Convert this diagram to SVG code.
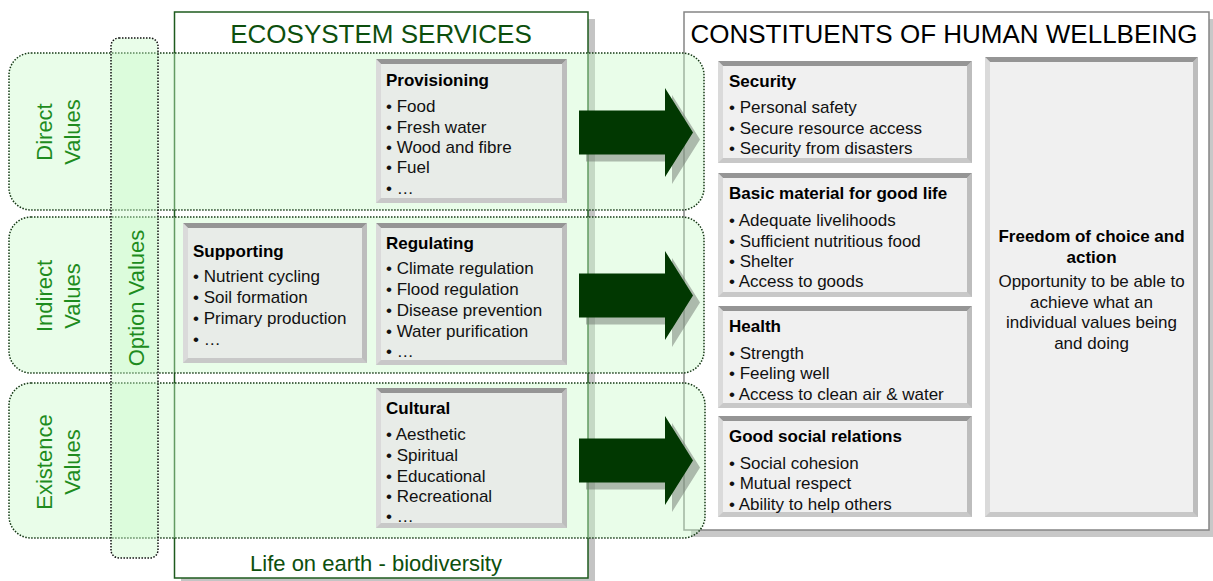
<svg xmlns="http://www.w3.org/2000/svg" xmlns:xlink="http://www.w3.org/1999/xlink" width="1213" height="581" viewBox="0 0 1213 581">
<style>
text{font-family:"Liberation Sans",Arial,sans-serif;}
.hdr{font-size:26px;}
.eco{fill:#0d4f0d;}
.lbl{font-size:22px;fill:#1e8c1e;}
.t{font-size:17px;font-weight:bold;fill:#000;}
.i{font-size:17px;fill:#111;}
.bb{fill:#c8c8c8;}
.bt{fill:#959595;}
.bl{fill:#dadada;}
.br{fill:#bdbdbd;}
.fs{fill:#e8ece8;}
.fr{fill:#f0f0f0;}
.band{fill:#c8fac8;fill-opacity:0.4;stroke:#143814;stroke-width:1.5;stroke-dasharray:1.5 1.5;}
.opt{fill:#c8fac8;fill-opacity:0.4;stroke:#111;stroke-width:1.5;stroke-dasharray:1.5 1.5;}
.arr{fill:#013801;}
.ash{fill:#707870;fill-opacity:0.5;}
</style>
<defs>
<path id="arrow" d="M0,-22H86V-44.5L114,0L86,44.5V22H0Z"/>
</defs>

<rect width="1213" height="581" fill="#fff"/>

<g id="ecosystem-services">
<rect x="181" y="19" width="414" height="566" fill="#c4c4c4"/>
<rect x="174.5" y="12" width="413.5" height="566" fill="#fff" stroke="#1e5b1e" stroke-width="1.5"/>
<text class="hdr eco" x="381" y="43" text-anchor="middle">ECOSYSTEM SERVICES</text>
<text class="eco" x="376" y="571" text-anchor="middle" font-size="22">Life on earth - biodiversity</text>
</g>

<g id="human-wellbeing">
<rect x="691" y="19" width="525" height="518" fill="#c8c8c8"/>
<rect x="684" y="12" width="525" height="518" fill="#fff" stroke="#858585" stroke-width="1.5"/>
<text class="hdr" x="944" y="43" text-anchor="middle" fill="#000">CONSTITUENTS OF HUMAN WELLBEING</text>
</g>

<g id="direct-values">
<rect class="band" x="9" y="53" width="695" height="157" rx="22"/>
</g>
<g id="indirect-values">
<rect class="band" x="9" y="217" width="695" height="156" rx="22"/>
</g>
<g id="existence-values">
<rect class="band" x="9" y="383" width="696" height="155" rx="22"/>
</g>
<g id="option-values">
<rect class="opt" x="111" y="38" width="47" height="520" rx="8"/>
<text class="lbl" transform="translate(144,298) rotate(-90)" text-anchor="middle">Option Values</text>
</g>
<g id="value-labels">
<text class="lbl" transform="translate(52,132) rotate(-90)" text-anchor="middle">Direct</text>
<text class="lbl" transform="translate(80,132) rotate(-90)" text-anchor="middle">Values</text>
<text class="lbl" transform="translate(52,296) rotate(-90)" text-anchor="middle">Indirect</text>
<text class="lbl" transform="translate(80,296) rotate(-90)" text-anchor="middle">Values</text>
<text class="lbl" transform="translate(52,462) rotate(-90)" text-anchor="middle">Existence</text>
<text class="lbl" transform="translate(80,462) rotate(-90)" text-anchor="middle">Values</text>
</g>

<g id="provisioning" transform="translate(376,59)">
<rect class="bb" width="191" height="144"/>
<path class="bt" d="M0,0H191L186,5H5Z"/>
<path class="bl" d="M0,0L5,5V139L0,144Z"/>
<path class="br" d="M191,0V144L186,139V5Z"/>
<rect class="fs" x="5" y="5" width="181" height="134"/>
<text class="t" x="10" y="27">Provisioning</text>
<text class="i" x="10" y="53">• Food</text>
<text class="i" x="10" y="74">• Fresh water</text>
<text class="i" x="10" y="94">• Wood and fibre</text>
<text class="i" x="10" y="114">• Fuel</text>
<text class="i" x="10" y="135">• …</text>
</g>

<g id="supporting" transform="translate(183,223)">
<rect class="bb" width="184" height="140"/>
<path class="bt" d="M0,0H184L179,5H5Z"/>
<path class="bl" d="M0,0L5,5V135L0,140Z"/>
<path class="br" d="M184,0V140L179,135V5Z"/>
<rect class="fs" x="5" y="5" width="174" height="130"/>
<text class="t" x="10" y="34">Supporting</text>
<text class="i" x="10" y="59">• Nutrient cycling</text>
<text class="i" x="10" y="80">• Soil formation</text>
<text class="i" x="10" y="101">• Primary production</text>
<text class="i" x="10" y="122">• …</text>
</g>

<g id="regulating" transform="translate(376,223)">
<rect class="bb" width="191" height="142"/>
<path class="bt" d="M0,0H191L186,5H5Z"/>
<path class="bl" d="M0,0L5,5V137L0,142Z"/>
<path class="br" d="M191,0V142L186,137V5Z"/>
<rect class="fs" x="5" y="5" width="181" height="132"/>
<text class="t" x="10" y="26">Regulating</text>
<text class="i" x="10" y="51">• Climate regulation</text>
<text class="i" x="10" y="72">• Flood regulation</text>
<text class="i" x="10" y="93">• Disease prevention</text>
<text class="i" x="10" y="114">• Water purification</text>
<text class="i" x="10" y="134">• …</text>
</g>

<g id="cultural" transform="translate(376,388)">
<rect class="bb" width="191" height="140"/>
<path class="bt" d="M0,0H191L186,5H5Z"/>
<path class="bl" d="M0,0L5,5V135L0,140Z"/>
<path class="br" d="M191,0V140L186,135V5Z"/>
<rect class="fs" x="5" y="5" width="181" height="130"/>
<text class="t" x="10" y="26">Cultural</text>
<text class="i" x="10" y="52">• Aesthetic</text>
<text class="i" x="10" y="73">• Spiritual</text>
<text class="i" x="10" y="94">• Educational</text>
<text class="i" x="10" y="114">• Recreational</text>
<text class="i" x="10" y="134">• …</text>
</g>

<g id="connectors">
<use xlink:href="#arrow" href="#arrow" class="ash" x="586" y="139.5"/>
<use xlink:href="#arrow" href="#arrow" class="arr" x="579" y="132.5"/>
<use xlink:href="#arrow" href="#arrow" class="ash" x="586" y="302.5"/>
<use xlink:href="#arrow" href="#arrow" class="arr" x="579" y="295.5"/>
<use xlink:href="#arrow" href="#arrow" class="ash" x="586" y="467.5"/>
<use xlink:href="#arrow" href="#arrow" class="arr" x="579" y="460.5"/>
</g>

<g id="security" transform="translate(718,61)">
<rect class="bb" width="254" height="102"/>
<path class="bt" d="M0,0H254L249,5H5Z"/>
<path class="bl" d="M0,0L5,5V97L0,102Z"/>
<path class="br" d="M254,0V102L249,97V5Z"/>
<rect class="fr" x="5" y="5" width="244" height="92"/>
<text class="t" x="11" y="26">Security</text>
<text class="i" x="11" y="52">• Personal safety</text>
<text class="i" x="11" y="73">• Secure resource access</text>
<text class="i" x="11" y="93">• Security from disasters</text>
</g>

<g id="basic-material" transform="translate(718,173)">
<rect class="bb" width="254" height="124"/>
<path class="bt" d="M0,0H254L249,5H5Z"/>
<path class="bl" d="M0,0L5,5V119L0,124Z"/>
<path class="br" d="M254,0V124L249,119V5Z"/>
<rect class="fr" x="5" y="5" width="244" height="114"/>
<text class="t" x="11" y="26">Basic material for good life</text>
<text class="i" x="11" y="53">• Adequate livelihoods</text>
<text class="i" x="11" y="74">• Sufficient nutritious food</text>
<text class="i" x="11" y="94">• Shelter</text>
<text class="i" x="11" y="114">• Access to goods</text>
</g>

<g id="health" transform="translate(718,306)">
<rect class="bb" width="254" height="102"/>
<path class="bt" d="M0,0H254L249,5H5Z"/>
<path class="bl" d="M0,0L5,5V97L0,102Z"/>
<path class="br" d="M254,0V102L249,97V5Z"/>
<rect class="fr" x="5" y="5" width="244" height="92"/>
<text class="t" x="11" y="26">Health</text>
<text class="i" x="11" y="53">• Strength</text>
<text class="i" x="11" y="73">• Feeling well</text>
<text class="i" x="11" y="94">• Access to clean air &amp; water</text>
</g>

<g id="social-relations" transform="translate(718,416)">
<rect class="bb" width="254" height="101"/>
<path class="bt" d="M0,0H254L249,5H5Z"/>
<path class="bl" d="M0,0L5,5V96L0,101Z"/>
<path class="br" d="M254,0V101L249,96V5Z"/>
<rect class="fr" x="5" y="5" width="244" height="91"/>
<text class="t" x="11" y="26">Good social relations</text>
<text class="i" x="11" y="53">• Social cohesion</text>
<text class="i" x="11" y="73">• Mutual respect</text>
<text class="i" x="11" y="94">• Ability to help others</text>
</g>

<g id="freedom" transform="translate(985,57)">
<rect class="bb" width="213" height="460"/>
<path class="bt" d="M0,0H213L208,5H5Z"/>
<path class="bl" d="M0,0L5,5V455L0,460Z"/>
<path class="br" d="M213,0V460L208,455V5Z"/>
<rect class="fr" x="5" y="5" width="203" height="450"/>
<text class="t" x="106.5" y="185" text-anchor="middle">Freedom of choice and</text>
<text class="t" x="106.5" y="206" text-anchor="middle">action</text>
<text class="i" x="106.5" y="230" text-anchor="middle">Opportunity to be able to</text>
<text class="i" x="106.5" y="251" text-anchor="middle">achieve what an</text>
<text class="i" x="106.5" y="271" text-anchor="middle">individual values being</text>
<text class="i" x="106.5" y="292" text-anchor="middle">and doing</text>
</g>
</svg>
